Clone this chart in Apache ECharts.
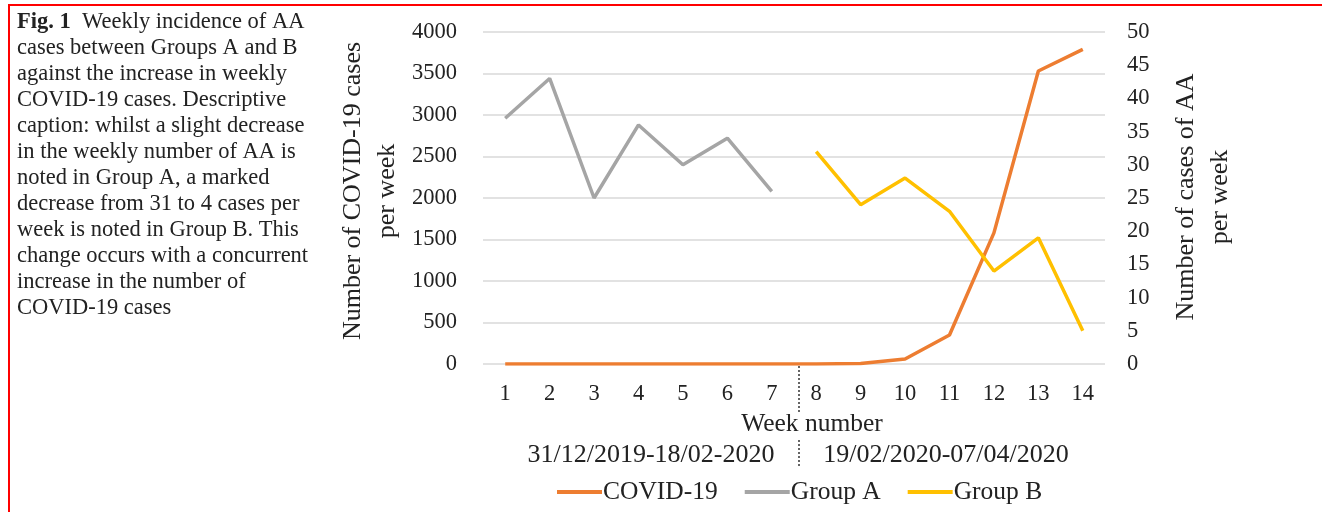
<!DOCTYPE html>
<html>
<head>
<meta charset="utf-8">
<script src="https://cdn.jsdelivr.net/npm/echarts@6/dist/echarts.min.js"></script>
<style>
html,body{margin:0;padding:0;background:#fff;}
#chart{width:1322px;height:512px;}
</style>
</head>
<body>
<div id="chart"></div>
<script>
var weeks = ['1','2','3','4','5','6','7','8','9','10','11','12','13','14'];
var covid = [0,0,0,0,0,0,0,0,5,60,350,1580,3530,3790];
var groupA = [37,43,25,36,30,34,26,null,null,null,null,null,null,null];
var groupB = [null,null,null,null,null,null,null,32,24,28,23,14,19,5];
var leftTicks = {min:0, max:4000, interval:500};
var rightTicks = {min:0, max:50, interval:5};
var periodLabels = ['31/12/2019-18/02-2020','19/02/2020-07/04/2020'];

var FONT = '"Liberation Serif", "DejaVu Serif", serif';
var TXT = '#222';
var chart = echarts.init(document.getElementById('chart'));

var caption = '{b|Fig. 1}  Weekly incidence of AA\ncases between Groups A and B\nagainst the increase in weekly\nCOVID-19 cases. Descriptive\ncaption: whilst a slight decrease\nin the weekly number of AA is\nnoted in Group A, a marked\ndecrease from 31 to 4 cases per\nweek is noted in Group B. This\nchange occurs with a concurrent\nincrease in the number of\nCOVID-19 cases';

var option = {
  backgroundColor:'#fff',
  animation:false,
  grid:{left:483, right:217, top:32, bottom:148, containLabel:false},
  legend:{
    left:552, top:474,
    itemWidth:45, itemHeight:4, itemGap:27,
    icon:'rect',
    textStyle:{fontFamily:FONT, fontSize:25.5, color:TXT, padding:[0,0,0,-4]},
    data:['COVID-19','Group A','Group B']
  },
  xAxis:{
    type:'category', data:weeks, boundaryGap:true,
    axisLine:{show:false}, axisTick:{show:false},
    axisLabel:{fontFamily:FONT, fontSize:22.5, color:TXT, margin:19}
  },
  yAxis:[
    {type:'value', min:leftTicks.min, max:leftTicks.max, interval:leftTicks.interval,
     axisLine:{show:false}, axisTick:{show:false},
     splitLine:{lineStyle:{color:'#d9d9d9', width:1.5}},
     axisLabel:{fontFamily:FONT, fontSize:22.5, color:TXT, margin:26,
                formatter:function(v){return String(v);}}},
    {type:'value', position:'right', min:rightTicks.min, max:rightTicks.max, interval:rightTicks.interval,
     axisLine:{show:false}, axisTick:{show:false}, splitLine:{show:false},
     axisLabel:{fontFamily:FONT, fontSize:22.5, color:TXT, margin:22}}
  ],
  series:[
    {name:'COVID-19', type:'line', yAxisIndex:0, data:covid, symbol:'none',
     lineStyle:{color:'#ED7D31', width:3.5}, itemStyle:{color:'#ED7D31'}, z:3},
    {name:'Group A', type:'line', yAxisIndex:1, data:groupA, symbol:'none',
     lineStyle:{color:'#A5A5A5', width:3.5}, itemStyle:{color:'#A5A5A5'}},
    {name:'Group B', type:'line', yAxisIndex:1, data:groupB, symbol:'none',
     lineStyle:{color:'#FFC000', width:3.5}, itemStyle:{color:'#FFC000'}}
  ]
};
chart.setOption(option);

var x7 = chart.convertToPixel({xAxisIndex:0}, weeks[6]);
var x8 = chart.convertToPixel({xAxisIndex:0}, weeks[7]);
var xd = (x7 + x8) / 2 + 5;
var y0 = chart.convertToPixel({yAxisIndex:0}, 0);

chart.setOption({
  graphic:[
    {type:'rect', shape:{x:9, y:5, width:1400, height:600},
     style:{fill:'none', stroke:'#FF0000', lineWidth:2}, silent:true},
    {type:'text', left:17, top:9,
     style:{text:caption, fontFamily:FONT, fontSize:22.5, lineHeight:26, fill:TXT,
            rich:{b:{fontFamily:FONT, fontSize:22.5, fontWeight:'bold', fill:TXT, lineHeight:26}}}},
    {type:'text', x:370, y:191, rotation:Math.PI/2,
     style:{text:'Number of COVID-19 cases\nper week', fontFamily:FONT, fontSize:26, lineHeight:34,
            fill:TXT, align:'center', verticalAlign:'middle'}},
    {type:'text', x:1203, y:197, rotation:Math.PI/2,
     style:{text:'Number of cases of AA\nper week', fontFamily:FONT, fontSize:26, lineHeight:34,
            fill:TXT, align:'center', verticalAlign:'middle'}},
    {type:'text', x:812, y:424,
     style:{text:'Week number', fontFamily:FONT, fontSize:25.5, fill:TXT, align:'center', verticalAlign:'middle'}},
    {type:'text', x:651, y:455,
     style:{text:periodLabels[0], fontFamily:FONT, fontSize:26, fill:TXT, align:'center', verticalAlign:'middle'}},
    {type:'text', x:946, y:455,
     style:{text:periodLabels[1], fontFamily:FONT, fontSize:26, fill:TXT, align:'center', verticalAlign:'middle'}},
    {type:'line', shape:{x1:xd, y1:y0 + 2, x2:xd, y2:413},
     style:{stroke:'#333', lineWidth:1.5, lineDash:[2,2]}},
    {type:'line', shape:{x1:xd, y1:440, x2:xd, y2:467},
     style:{stroke:'#333', lineWidth:1.5, lineDash:[2,2]}}
  ]
});
</script>
</body>
</html>
